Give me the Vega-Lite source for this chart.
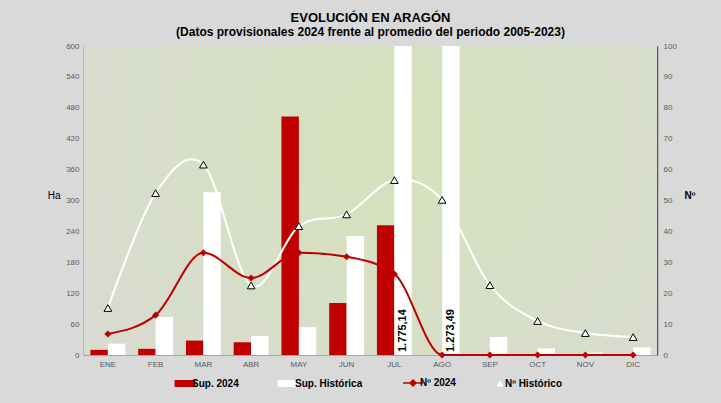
{
  "$schema": "https://vega.github.io/schema/vega-lite/v6.json",
  "width": 573,
  "height": 309,
  "autosize": {"type": "none"},
  "padding": {"left": 84, "top": 46, "right": 64, "bottom": 48},
  "background": "#d9d9d9",
  "title": {
    "text": "EVOLUCIÓN EN ARAGÓN",
    "subtitle": "(Datos provisionales 2024 frente al promedio del periodo 2005-2023)",
    "anchor": "middle",
    "font": "Liberation Sans",
    "fontSize": 13,
    "fontWeight": "bold",
    "color": "#000000",
    "subtitleFont": "Liberation Sans",
    "subtitleFontSize": 12,
    "subtitleFontWeight": "bold",
    "subtitleColor": "#000000",
    "subtitlePadding": 2,
    "offset": 4
  },
  "datasets": {
    "bars": [
      {"mes": "ENE", "serie": "Sup. 2024", "valor": 10},
      {"mes": "FEB", "serie": "Sup. 2024", "valor": 12},
      {"mes": "MAR", "serie": "Sup. 2024", "valor": 28},
      {"mes": "ABR", "serie": "Sup. 2024", "valor": 25},
      {"mes": "MAY", "serie": "Sup. 2024", "valor": 463},
      {"mes": "JUN", "serie": "Sup. 2024", "valor": 101},
      {"mes": "JUL", "serie": "Sup. 2024", "valor": 252},
      {"mes": "AGO", "serie": "Sup. 2024", "valor": 0},
      {"mes": "SEP", "serie": "Sup. 2024", "valor": 0},
      {"mes": "OCT", "serie": "Sup. 2024", "valor": 0},
      {"mes": "NOV", "serie": "Sup. 2024", "valor": 0},
      {"mes": "DIC", "serie": "Sup. 2024", "valor": 0},
      {"mes": "ENE", "serie": "Sup. Histórica", "valor": 22},
      {"mes": "FEB", "serie": "Sup. Histórica", "valor": 74},
      {"mes": "MAR", "serie": "Sup. Histórica", "valor": 316},
      {"mes": "ABR", "serie": "Sup. Histórica", "valor": 37},
      {"mes": "MAY", "serie": "Sup. Histórica", "valor": 54},
      {"mes": "JUN", "serie": "Sup. Histórica", "valor": 231},
      {"mes": "JUL", "serie": "Sup. Histórica", "valor": 1775.14},
      {"mes": "AGO", "serie": "Sup. Histórica", "valor": 1273.49},
      {"mes": "SEP", "serie": "Sup. Histórica", "valor": 35},
      {"mes": "OCT", "serie": "Sup. Histórica", "valor": 13},
      {"mes": "NOV", "serie": "Sup. Histórica", "valor": 5},
      {"mes": "DIC", "serie": "Sup. Histórica", "valor": 15}
    ],
    "labels": [
      {"mes": "JUL", "serie": "Sup. Histórica", "base": 0, "texto": "1.775,14"},
      {"mes": "AGO", "serie": "Sup. Histórica", "base": 0, "texto": "1.273,49"}
    ],
    "lines": [
      {"mes": "ENE", "serie": "Nº 2024", "n": 6.8},
      {"mes": "FEB", "serie": "Nº 2024", "n": 12.9},
      {"mes": "MAR", "serie": "Nº 2024", "n": 33.1},
      {"mes": "ABR", "serie": "Nº 2024", "n": 24.9},
      {"mes": "MAY", "serie": "Nº 2024", "n": 33.1},
      {"mes": "JUN", "serie": "Nº 2024", "n": 31.8},
      {"mes": "JUL", "serie": "Nº 2024", "n": 26.2},
      {"mes": "AGO", "serie": "Nº 2024", "n": 0},
      {"mes": "SEP", "serie": "Nº 2024", "n": 0},
      {"mes": "OCT", "serie": "Nº 2024", "n": 0},
      {"mes": "NOV", "serie": "Nº 2024", "n": 0},
      {"mes": "DIC", "serie": "Nº 2024", "n": 0},
      {"mes": "ENE", "serie": "Nº Histórico", "n": 15.2},
      {"mes": "FEB", "serie": "Nº Histórico", "n": 52.4},
      {"mes": "MAR", "serie": "Nº Histórico", "n": 61.6},
      {"mes": "ABR", "serie": "Nº Histórico", "n": 22.5},
      {"mes": "MAY", "serie": "Nº Histórico", "n": 41.7},
      {"mes": "JUN", "serie": "Nº Histórico", "n": 45.5},
      {"mes": "JUL", "serie": "Nº Histórico", "n": 56.6},
      {"mes": "AGO", "serie": "Nº Histórico", "n": 50.2},
      {"mes": "SEP", "serie": "Nº Histórico", "n": 22.6},
      {"mes": "OCT", "serie": "Nº Histórico", "n": 11},
      {"mes": "NOV", "serie": "Nº Histórico", "n": 7.1},
      {"mes": "DIC", "serie": "Nº Histórico", "n": 5.8}
    ]
  },
  "layer": [
    {
      "layer": [
        {
          "data": {"values": [{"k": 1}]},
          "mark": {
            "type": "rect",
            "fill": {
              "gradient": "radial",
              "x1": 0.55, "y1": 0.4, "r1": 0,
              "x2": 0.55, "y2": 0.4, "r2": 0.75,
              "stops": [
                {"offset": 0, "color": "#d5e2bb"},
                {"offset": 1, "color": "#d9dad6"}
              ]
            }
          },
          "encoding": {}
        },
        {
          "data": {"name": "bars"},
          "mark": {"type": "bar", "clip": true},
          "encoding": {
            "x": {
              "field": "mes", "type": "nominal",
              "sort": ["ENE","FEB","MAR","ABR","MAY","JUN","JUL","AGO","SEP","OCT","NOV","DIC"],
              "scale": {"paddingInner": 0.27, "paddingOuter": 0.135},
              "title": null,
              "axis": {"labelAngle": 0, "labelFontSize": 8, "labelColor": "#595959", "ticks": false, "domainColor": "#a6a6a6", "domainWidth": 1, "labelPadding": 5, "grid": false, "labelOverlap": false}
            },
            "xOffset": {"field": "serie", "type": "nominal", "scale": {"domain": ["Sup. 2024", "Sup. Histórica"], "paddingInner": 0, "paddingOuter": 0}},
            "y": {
              "field": "valor", "type": "quantitative",
              "scale": {"domain": [0, 600], "nice": false},
              "title": "Ha",
              "axis": {"orient": "left", "values": [0,60,120,180,240,300,360,420,480,540,600], "tickCount": 11, "labelOverlap": false, "titleAngle": 0, "titleFontWeight": "normal", "titleFontSize": 10, "titleColor": "#000000", "titlePadding": 12, "labelFontSize": 8, "labelColor": "#595959", "ticks": false, "labelPadding": 5, "domainColor": "#595959", "domainWidth": 1.5, "grid": true, "gridDash": [3, 2], "gridColor": "#9a9a9a", "gridWidth": 1}
            },
            "color": {
              "field": "serie", "type": "nominal",
              "scale": {"domain": ["Sup. 2024", "Sup. Histórica", "Nº 2024", "Nº Histórico"], "range": ["#c00000", "#ffffff", "#c00000", "#ffffff"]},
              "legend": {
                "title": null,
                "orient": "bottom",
                "direction": "horizontal",
                "labelFont": "Liberation Sans",
                "labelFontSize": 10,
                "labelFontWeight": "bold",
                "labelColor": "#000000",
                "symbolSize": 400,
                "labelOffset": 2,
                "columnPadding": 37,
                "offset": 10,
                "encode": {
                  "symbols": {
                    "update": {
                      "shape": {"signal": "datum.value === 'Nº 2024' ? 'M-1,0H1M-0.3,0L0,-0.3L0.3,0L0,0.3Z' : datum.value === 'Nº Histórico' ? 'M-0.05,0.25L0.22,-0.25L0.49,0.25Z' : 'M-1,-0.3H1V0.3H-1Z'"},
                      "fill": {"signal": "datum.value === 'Sup. 2024' || datum.value === 'Nº 2024' ? '#c00000' : '#ffffff'"},
                      "stroke": {"signal": "datum.value === 'Nº 2024' ? '#c00000' : datum.value === 'Nº Histórico' ? '#000000' : 'transparent'"},
                      "strokeWidth": {"signal": "datum.value === 'Nº 2024' ? 1.5 : 1"},
                      "opacity": {"value": 1}
                    }
                  }
                }
              }
            }
          }
        },
        {
          "data": {"name": "labels"},
          "mark": {"type": "text", "angle": 270, "align": "left", "baseline": "middle", "dx": 3, "font": "Liberation Sans", "fontSize": 11, "fontWeight": "bold", "color": "#000000"},
          "encoding": {
            "x": {"field": "mes", "type": "nominal", "sort": ["ENE","FEB","MAR","ABR","MAY","JUN","JUL","AGO","SEP","OCT","NOV","DIC"]},
            "xOffset": {"field": "serie", "type": "nominal"},
            "y": {"field": "base", "type": "quantitative"},
            "text": {"field": "texto", "type": "nominal"}
          }
        }
      ]
    },
    {
      "layer": [
        {
          "data": {"name": "lines"},
          "transform": [{"filter": "datum.serie === 'Nº Histórico'"}],
          "mark": {"type": "line", "interpolate": "cardinal", "strokeWidth": 2},
          "encoding": {
            "x": {"field": "mes", "type": "nominal", "sort": ["ENE","FEB","MAR","ABR","MAY","JUN","JUL","AGO","SEP","OCT","NOV","DIC"]},
            "y": {
              "field": "n", "type": "quantitative",
              "scale": {"domain": [0, 100], "nice": false},
              "title": "Nº",
              "axis": {"orient": "right", "values": [0,10,20,30,40,50,60,70,80,90,100], "tickCount": 11, "labelOverlap": false, "titleAngle": 0, "titleFontWeight": "bold", "titleFontSize": 10, "titleColor": "#000000", "titlePadding": 13, "labelFontSize": 8, "labelColor": "#595959", "ticks": false, "labelPadding": 6, "domainColor": "#595959", "domainWidth": 1.5, "grid": false}
            },
            "color": {"field": "serie", "type": "nominal"}
          }
        },
        {
          "data": {"name": "lines"},
          "transform": [{"filter": "datum.serie === 'Nº 2024'"}],
          "mark": {"type": "line", "interpolate": "monotone", "strokeWidth": 2},
          "encoding": {
            "x": {"field": "mes", "type": "nominal", "sort": ["ENE","FEB","MAR","ABR","MAY","JUN","JUL","AGO","SEP","OCT","NOV","DIC"]},
            "y": {"field": "n", "type": "quantitative"},
            "color": {"field": "serie", "type": "nominal"}
          }
        },
        {
          "data": {"name": "lines"},
          "transform": [{"filter": "datum.serie === 'Nº Histórico'"}],
          "mark": {"type": "point", "shape": "triangle-up", "filled": true, "fill": "#ffffff", "stroke": "#000000", "strokeWidth": 1, "size": 60, "opacity": 1},
          "encoding": {
            "x": {"field": "mes", "type": "nominal", "sort": ["ENE","FEB","MAR","ABR","MAY","JUN","JUL","AGO","SEP","OCT","NOV","DIC"]},
            "y": {"field": "n", "type": "quantitative"}
          }
        },
        {
          "data": {"name": "lines"},
          "transform": [{"filter": "datum.serie === 'Nº 2024'"}],
          "mark": {"type": "point", "shape": "diamond", "filled": true, "color": "#c00000", "size": 50, "opacity": 1},
          "encoding": {
            "x": {"field": "mes", "type": "nominal", "sort": ["ENE","FEB","MAR","ABR","MAY","JUN","JUL","AGO","SEP","OCT","NOV","DIC"]},
            "y": {"field": "n", "type": "quantitative"}
          }
        }
      ]
    }
  ],
  "resolve": {"scale": {"y": "independent"}},
  "config": {
    "font": "Liberation Sans",
    "view": {"stroke": null},
    "axis": {"labelFont": "Liberation Sans", "titleFont": "Liberation Sans"},
    "legend": {"layout": {"bottom": {"anchor": "middle"}}}
  }
}
